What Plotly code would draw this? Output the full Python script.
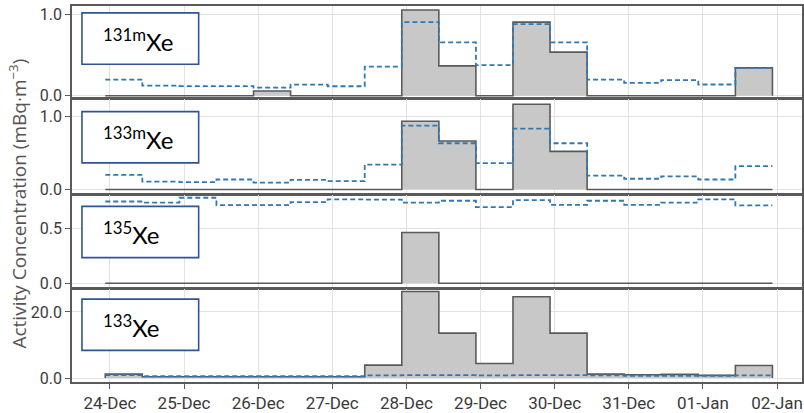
import pandas as pd
import plotly.graph_objects as go
from plotly.subplots import make_subplots

# 12-hour sampling intervals: start of each interval, plus the end of the last one
sample_edges = pd.date_range("2021-12-23 22:30", periods=19, freq="12h")

# Activity concentration per interval (mBq/m3) and the matching MDC (dashed)
xe131m_conc = [0, 0, 0, 0, 0.06, 0, 0, 0, 1.06, 0.37, 0, 0.91, 0.54, 0, 0, 0, 0, 0.345]
xe131m_mdc = [0.20, 0.126, 0.12, 0.12, 0.10, 0.138, 0.118, 0.36, 0.91, 0.66, 0.38,
              0.886, 0.66, 0.20, 0.16, 0.195, 0.14, 0.345]

xe133m_conc = [0, 0, 0, 0, 0, 0, 0, 0, 0.93, 0.66, 0, 1.16, 0.52, 0, 0, 0, 0, 0]
xe133m_mdc = [0.20, 0.107, 0.10, 0.137, 0.093, 0.133, 0.116, 0.34, 0.87, 0.63, 0.36,
              0.83, 0.63, 0.19, 0.147, 0.18, 0.137, 0.32]

xe135_conc = [0, 0, 0, 0, 0, 0, 0, 0, 0.46, 0, 0, 0, 0, 0, 0, 0, 0, 0]
xe135_mdc = [0.74, 0.73, 0.774, 0.708, 0.708, 0.735, 0.76, 0.757, 0.73, 0.747, 0.69,
             0.753, 0.71, 0.747, 0.71, 0.73, 0.76, 0.705]

xe133_conc = [1.2, 0.4, 0.4, 0.4, 0.4, 0.4, 0.4, 3.9, 26.2, 13.6, 4.4, 24.6, 13.6,
              1.2, 1.0, 1.1, 0.8, 3.8]
xe133_mdc = [0.9, 0.6, 0.6, 0.6, 0.6, 0.6, 0.6, 0.8, 0.9, 0.9, 0.8, 0.9, 0.9,
             0.8, 0.7, 0.7, 0.7, 0.8]

isotopes = ["131m", "133m", "135", "133"]
conc_series = [xe131m_conc, xe133m_conc, xe135_conc, xe133_conc]
mdc_series = [xe131m_mdc, xe133m_mdc, xe135_mdc, xe133_mdc]
y_ticks = [[0.0, 1.0], [0.0, 1.0], [0.0, 0.5], [0.0, 20.0]]

day_ticks = pd.date_range("2021-12-24", "2022-01-02", freq="D")

# ---- page geometry (pixels) ----
W, H = 804, 413
ML, MR, MT, MB = 72, 0, 6, 26
plot_w = W - ML - MR
plot_h = H - MT - MB
bottom_px = H - MB

# panel top/bottom in page pixels
panel_px = [(6, 99.5), (100.5, 196.5), (197.5, 291.5), (292.5, 387)]
# two reference (pixel, value) pairs per panel to set the y scale
scale_refs = [((97, 0.0), (15, 1.0)), ((192, 0.0), (117.5, 1.0)),
              ((287, 0.0), (231, 0.5)), ((383, 0.0), (316, 20.0))]


def paper_y(px):
    return (bottom_px - px) / plot_h


def paper_x(px):
    return (px - ML) / plot_w


def y_range(top, bot, ref):
    (p0, v0), (p1, v1) = ref
    s = (v1 - v0) / (p1 - p0)
    return [v0 + (bot - p0) * s, v0 + (top - p0) * s]


fig = make_subplots(rows=4, cols=1, shared_xaxes=True, vertical_spacing=0.0)

gray_line = "#5a5a5a"
fill_gray = "rgba(200,200,200,1)"
mdc_blue = "#2f78b4"

for i, (conc, mdc) in enumerate(zip(conc_series, mdc_series)):
    row = i + 1
    # measured concentration: filled step outline closed down to zero at both ends
    xs = [sample_edges[0]] + list(sample_edges) + [sample_edges[-1]]
    ys = [0] + list(conc) + [conc[-1], 0]
    fig.add_trace(go.Scatter(
        x=xs, y=ys, mode="lines", line=dict(shape="hv", color=gray_line, width=1.6),
        fill="tozeroy", fillcolor=fill_gray, showlegend=False, hoverinfo="skip"),
        row=row, col=1)
    # MDC as dashed steps
    fig.add_trace(go.Scatter(
        x=list(sample_edges), y=list(mdc) + [mdc[-1]], mode="lines",
        line=dict(shape="hv", color=mdc_blue, width=1.8, dash="5px,3px"),
        showlegend=False, hoverinfo="skip"),
        row=row, col=1)

tick_font = dict(family="Roboto", size=16, color="#3a3a3a")

x_start = day_ticks[0] - pd.Timedelta(days=38 / 74.33)
x_end = day_ticks[-1] + pd.Timedelta(days=25 / 74.33)

for i in range(4):
    row = i + 1
    top, bot = panel_px[i]
    yax = "yaxis" if i == 0 else f"yaxis{row}"
    xax = "xaxis" if i == 0 else f"xaxis{row}"
    fig.layout[yax].update(
        domain=[paper_y(bot), paper_y(top)],
        range=y_range(top, bot, scale_refs[i]),
        tickvals=y_ticks[i], tickformat=".1f", tickfont=tick_font,
        ticks="outside", ticklen=5, tickcolor=gray_line,
        showgrid=True, gridcolor="#e2e2e2", gridwidth=1, zeroline=False,
        showline=True, mirror=True, linecolor=gray_line, linewidth=1.6)
    fig.layout[xax].update(
        range=[x_start, x_end], tickvals=list(day_ticks), tickformat="%d-%b",
        tickfont=dict(tick_font, size=17), ticks="outside", ticklen=5,
        tickcolor=gray_line, showgrid=True, gridcolor="#e2e2e2", gridwidth=1,
        zeroline=False, showline=True, mirror=True, linecolor=gray_line,
        linewidth=1.6, showticklabels=(row == 4))

# isotope label boxes
box_px = [(13, 65), (113, 165), (209, 261), (303, 355)]
shapes = []
annotations = []
for name, (b_top, b_bot) in zip(isotopes, box_px):
    shapes.append(dict(type="rect", xref="paper", yref="paper",
                       x0=paper_x(82), x1=paper_x(199),
                       y0=paper_y(b_bot), y1=paper_y(b_top),
                       line=dict(color="#2f5496", width=1.6), fillcolor="white",
                       layer="above"))
    annotations.append(dict(xref="paper", yref="paper", x=paper_x(101),
                            y=paper_y((b_top + b_bot) / 2 + 1),
                            xanchor="left", yanchor="middle", showarrow=False,
                            text=f"<sup>{name}</sup>Xe",
                            font=dict(family="Lato", size=24, color="black")))

annotations.append(dict(xref="paper", yref="paper", x=paper_x(18),
                        y=paper_y(206), xanchor="center", yanchor="middle",
                        showarrow=False, textangle=-90,
                        text="Activity Concentration (mBq·m<sup>−3</sup>)",
                        font=dict(family="Open Sans", size=19, color="#555555")))

fig.update_layout(
    width=W, height=H, margin=dict(l=ML, r=MR, t=MT, b=MB, pad=0),
    paper_bgcolor="white", plot_bgcolor="white",
    shapes=shapes, annotations=annotations, showlegend=False)

fig.write_html("out.html")
